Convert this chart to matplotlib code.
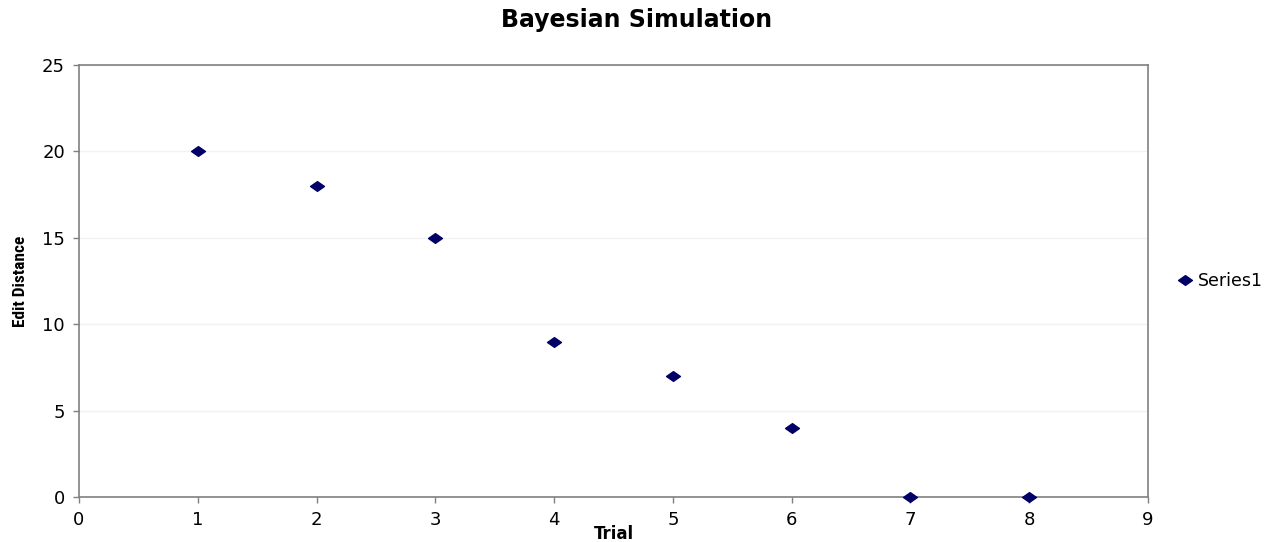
import matplotlib.pyplot as plt
from matplotlib import font_manager
from matplotlib.path import Path

# trial number vs edit distance
trials = [1, 2, 3, 4, 5, 6, 7, 8]
edit_distance = [20, 18, 15, 9, 7, 4, 0, 0]
series_name = 'Series1'

# narrow font for the y label if one is installed
installed = {f.name for f in font_manager.fontManager.ttflist}
narrow = next((n for n in ['Liberation Sans Narrow', 'DejaVu Sans Condensed',
                           'Roboto Condensed', 'Open Sans Condensed']
               if n in installed), None)

# flattened diamond marker
diamond = Path([(-1, 0), (0, 0.7), (1, 0), (0, -0.7), (-1, 0)],
               [Path.MOVETO, Path.LINETO, Path.LINETO, Path.LINETO, Path.CLOSEPOLY])

fig = plt.figure(figsize=(12.68, 5.42), dpi=100)
ax = fig.add_axes([0.0623, 0.083, 0.8431, 0.797])

ax.plot(trials, edit_distance, linestyle='none', marker=diamond, markersize=10,
        color='#000066', label=series_name, clip_on=False, zorder=5)

ax.set_xlim(0, 9)
ax.set_ylim(0, 25)
ax.set_xticks(range(0, 10))
ax.set_yticks(range(0, 26, 5))

ax.grid(True, axis='y', color='#f2f2f2', linewidth=1)
ax.set_axisbelow(True)
for side in ax.spines.values():
    side.set_color('#808080')
    side.set_linewidth(1.2)
ax.tick_params(axis='both', colors='#808080', labelcolor='black', labelsize=13,
               length=4, width=1)
ax.tick_params(axis='x', pad=6)
ax.tick_params(axis='y', pad=6)

fig.text(0.502, 0.963, 'Bayesian Simulation', ha='center', va='center',
         fontsize=17, fontweight='bold', family='DejaVu Sans')
ax.set_xlabel('Trial', fontsize=12, fontweight='bold', va='center')
ax.xaxis.set_label_coords(0.5, -0.086)
if narrow:
    ax.set_ylabel('Edit Distance', fontsize=12.5, fontweight='bold',
                  family=[narrow, 'DejaVu Sans'], va='center')
else:
    ax.set_ylabel('Edit Distance', fontsize=10.5, fontweight='bold', va='center')
ax.yaxis.set_label_coords(-0.055, 0.5)

ax.legend(loc='center left', bbox_to_anchor=(1.017, 0.5), frameon=False,
          fontsize=12.5, handlelength=0.8, handletextpad=0.35,
          borderaxespad=0.3)

fig.savefig('out.png', dpi=100)
